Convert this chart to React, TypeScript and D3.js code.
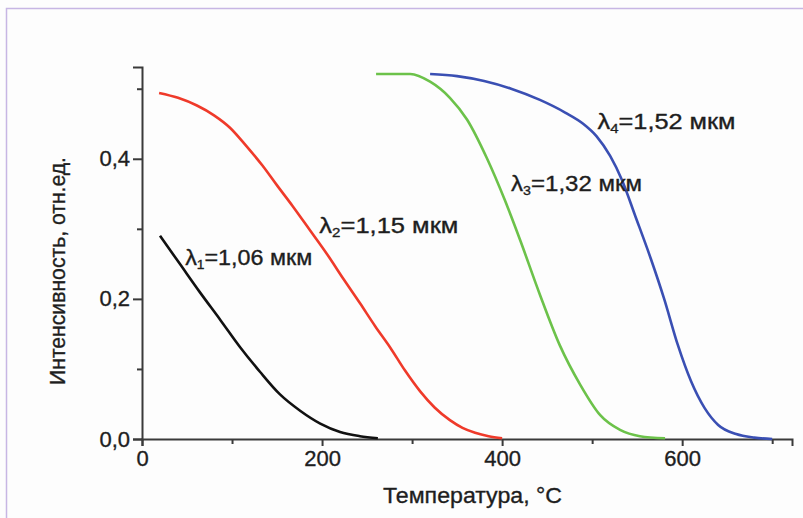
import * as d3 from "d3";
import { useEffect, useRef } from "react";

// температура, °C и интенсивность, отн.ед. для каждой длины волны
const temps1 = [20, 42, 64, 87, 109, 131, 153, 176, 198, 220, 242, 262];
const intens1 = [0.29, 0.25, 0.21, 0.17, 0.131, 0.096, 0.064, 0.04, 0.022, 0.01, 0.004, 0.001];

const temps2 = [19, 40, 61, 80, 98, 116, 134, 150, 167, 186, 206, 224, 242, 259, 276, 292, 309, 325, 342, 356, 370, 385, 400];
const intens2 = [0.494, 0.487, 0.476, 0.462, 0.444, 0.418, 0.39, 0.362, 0.333, 0.299, 0.263, 0.228, 0.194, 0.161, 0.13, 0.098, 0.068, 0.045, 0.027, 0.016, 0.009, 0.004, 0.001];

const temps3 = [260, 298, 320, 342, 361, 383, 403, 420, 442, 464, 487, 509, 531, 553, 581];
const intens3 = [0.521, 0.521, 0.51, 0.487, 0.456, 0.401, 0.341, 0.284, 0.206, 0.134, 0.077, 0.034, 0.013, 0.004, 0.001];

const temps4 = [320, 350, 380, 410, 442, 470, 490, 505, 520, 533, 548, 565, 580, 595, 610, 625, 640, 660, 680, 700];
const intens4 = [0.521, 0.518, 0.511, 0.5, 0.484, 0.466, 0.45, 0.432, 0.404, 0.37, 0.318, 0.258, 0.2, 0.135, 0.082, 0.044, 0.02, 0.007, 0.002, 0.0];

const seriesNames = ["1", "2", "3", "4"];
const seriesValues = ["1,06", "1,15", "1,32", "1,52"];
const seriesColors = ["#111111", "#ef3a2a", "#6cc24a", "#3a4fb3"];
// положение подписей в единицах данных
const labelX = [48, 197, 410, 506];
const labelY = [0.248, 0.294, 0.354, 0.443];
// ширина подписей на исходной картинке, px
const labelWidths = [127, 139, 131, 138];

const xTicks = [0, 200, 400, 600];
const xMinorTicks = [100, 300, 500, 700];
const yTicks = [0, 0.2, 0.4];
const yMinorTicks = [0.1, 0.3, 0.5];

const W = 803;
const H = 518;
const FONT = "'Liberation Sans', Arial, sans-serif";
const TEXT_COLOR = "#1e1e1e";

const App = () => {
    const chartRef = useRef<SVGSVGElement>(null);

    useEffect(() => {
        const svg = d3.select(chartRef.current);
        svg.selectAll("*").remove();

        const margin = { top: 67, left: 142, right: 11, bottom: 79 };

        const scaleX = d3.scaleLinear().domain([0, 722]).range([margin.left, W - margin.right]);
        const scaleY = d3.scaleLinear().domain([0, 0.531]).range([H - margin.bottom, margin.top]);

        svg.append("rect").attr("width", W).attr("height", H).style("fill", "#fdfdfd");

        // рамка сверху и слева
        svg
            .append("path")
            .attr("d", `M6.5,${H}V8.5H${W}`)
            .style("fill", "none")
            .style("stroke", "#c7b6e4")
            .style("stroke-width", 1.5);

        const fmt = (d: number) => d3.format(".1f")(d).replace(".", ",");

        const styleText = (sel: any) =>
            sel
                .style("font-family", FONT)
                .style("font-size", "22px")
                .style("fill", TEXT_COLOR)
                .style("stroke", TEXT_COLOR)
                .style("stroke-width", 0.35);

        // оси
        const xAxis = svg
            .append("g")
            .attr("transform", `translate(0, ${scaleY(0)})`)
            .call(d3.axisBottom(scaleX).tickValues(xTicks).tickSizeOuter(0).tickSize(7).tickPadding(4));
        svg
            .append("g")
            .attr("transform", `translate(0, ${scaleY(0)})`)
            .call(d3.axisBottom(scaleX).tickValues(xMinorTicks).tickSizeOuter(0).tickSize(5).tickFormat(() => ""))
            .select(".domain")
            .remove();

        const yAxis = svg
            .append("g")
            .attr("transform", `translate(${scaleX(0)}, 0)`)
            .call(d3.axisLeft(scaleY).tickValues(yTicks).tickSizeOuter(0).tickSize(9).tickPadding(3).tickFormat(fmt));
        svg
            .append("g")
            .attr("transform", `translate(${scaleX(0)}, 0)`)
            .call(d3.axisLeft(scaleY).tickValues(yMinorTicks).tickSizeOuter(0).tickSize(5).tickFormat(() => ""))
            .select(".domain")
            .remove();

        svg.selectAll(".domain, .tick line").style("stroke", "#3a3a3a").style("stroke-width", 2);
        styleText(xAxis.selectAll("text"));
        styleText(yAxis.selectAll("text"));

        // линии
        const allTemps = [temps1, temps2, temps3, temps4];
        const allIntens = [intens1, intens2, intens3, intens4];
        const line = d3
            .line<[number, number]>()
            .x(d => scaleX(d[0]))
            .y(d => scaleY(d[1]))
            .curve(d3.curveMonotoneX);

        allTemps.forEach((temps, i) => {
            const pts = temps.map((t, j) => [t, allIntens[i][j]] as [number, number]);
            svg
                .append("path")
                .attr("d", line(pts))
                .style("fill", "none")
                .style("stroke", seriesColors[i])
                .style("stroke-width", 2.6)
                .style("stroke-linejoin", "round");
        });

        // подписи кривых
        seriesNames.forEach((name, i) => {
            const t = svg
                .append("text")
                .attr("x", scaleX(labelX[i]))
                .attr("y", scaleY(labelY[i]))
                .attr("textLength", labelWidths[i])
                .attr("lengthAdjust", "spacingAndGlyphs");
            styleText(t);
            t.append("tspan").text("λ");
            t.append("tspan").attr("dy", 4).style("font-size", "13px").text(name);
            t.append("tspan").attr("dy", -4).text(`=${seriesValues[i]} мкм`);
        });

        // подписи осей
        styleText(
            svg
                .append("text")
                .attr("x", 383)
                .attr("y", 503)
                .attr("textLength", 179)
                .attr("lengthAdjust", "spacingAndGlyphs")
                .text("Температура, °C")
        );

        styleText(
            svg
                .append("text")
                .attr("transform", `translate(65, 385) rotate(-90)`)
                .attr("textLength", 228)
                .attr("lengthAdjust", "spacingAndGlyphs")
                .text("Интенсивность, отн.ед.")
        );
    }, []);

    return (
        <svg
            ref={chartRef}
            width={W}
            height={H}
            style={{ position: "absolute", left: 0, top: 0, display: "block" }}
        ></svg>
    );
};

export default App;
